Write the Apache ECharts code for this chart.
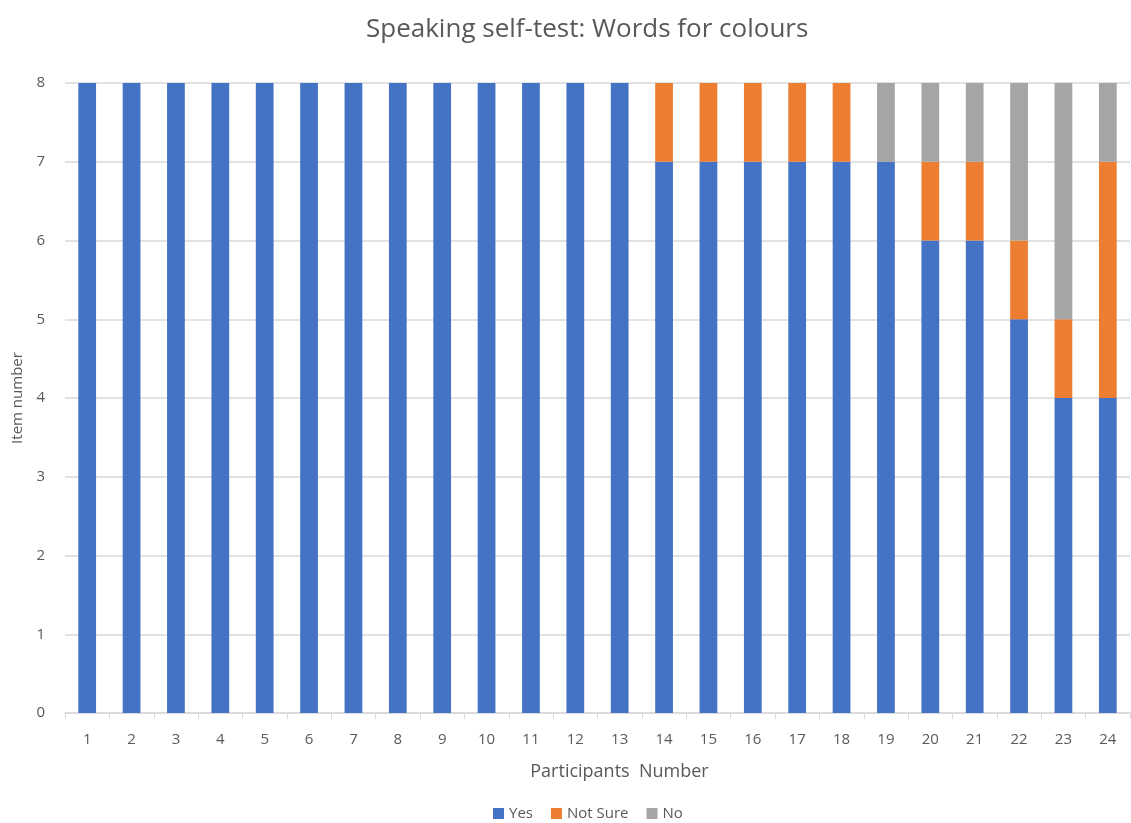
<!DOCTYPE html>
<html>
<head>
<meta charset="utf-8">
<script src="https://cdn.jsdelivr.net/npm/echarts@6/dist/echarts.min.js"></script>
<style>
  html, body { margin: 0; padding: 0; background: #fff; }
  #chart { width: 1131px; height: 823px; }
</style>
</head>
<body>
<div id="chart"></div>
<script>
// Participants 1–24 and how many of the 8 colour words each answered
const participants = ['1','2','3','4','5','6','7','8','9','10','11','12','13','14','15','16','17','18','19','20','21','22','23','24'];
const yesCounts     = [8,8,8,8,8,8,8,8,8,8,8,8,8,7,7,7,7,7,7,6,6,5,4,4];
const notSureCounts = [0,0,0,0,0,0,0,0,0,0,0,0,0,1,1,1,1,1,0,1,1,1,1,3];
const noCounts      = [0,0,0,0,0,0,0,0,0,0,0,0,0,0,0,0,0,0,1,1,1,2,3,1];
const yTicks = [0,1,2,3,4,5,6,7,8];

const textColor = '#595959';
const fontFamily = '"Open Sans", "Noto Sans", sans-serif';

const chart = echarts.init(document.getElementById('chart'), null, { renderer: 'canvas' });

const barSeries = (name, data, color) => ({
  name,
  type: 'bar',
  stack: 'total',
  data,
  barWidth: '40%',
  itemStyle: { color },
  emphasis: { disabled: true }
});

chart.setOption({
  animation: false,
  textStyle: { fontFamily },
  title: {
    text: 'Speaking self-test: Words for colours',
    left: 361,
    top: 12,
    textStyle: { color: textColor, fontSize: 26, fontWeight: 'normal', fontFamily }
  },
  legend: {
    bottom: -3,
    left: 488,
    itemWidth: 11,
    itemHeight: 11,
    itemGap: 18,
    icon: 'rect',
    textStyle: { color: textColor, fontSize: 15, fontFamily },
    data: ['Yes', 'Not Sure', 'No']
  },
  grid: { left: 65, right: 1, top: 83, bottom: 110, containLabel: false },
  xAxis: {
    type: 'category',
    data: participants,
    name: 'Participants  Number',
    nameLocation: 'middle',
    nameGap: 50,
    nameTextStyle: { color: textColor, fontSize: 18, fontFamily, padding: [0, 0, 0, 44] },
    axisLine: { lineStyle: { color: '#d9d9d9', width: 1.5 } },
    axisTick: { show: true, alignWithLabel: false, length: 6, lineStyle: { color: '#d9d9d9' } },
    axisLabel: { color: textColor, fontSize: 15, margin: 19, fontFamily }
  },
  yAxis: {
    type: 'value',
    min: 0,
    max: 8,
    interval: 1,
    name: 'Item number',
    nameLocation: 'middle',
    nameGap: 40,
    nameRotate: 90,
    nameTextStyle: { color: textColor, fontSize: 15, fontFamily },
    axisLine: { show: false },
    axisTick: { show: false },
    axisLabel: {
      color: textColor, fontSize: 15, margin: 20, fontFamily,
      formatter: v => (yTicks.includes(v) ? String(v) : '')
    },
    splitLine: { lineStyle: { color: '#d9d9d9', width: 1.5 } }
  },
  series: [
    barSeries('Yes', yesCounts, '#4472c4'),
    barSeries('Not Sure', notSureCounts, '#ed7d31'),
    barSeries('No', noCounts, '#a5a5a5')
  ]
});
</script>
</body>
</html>
